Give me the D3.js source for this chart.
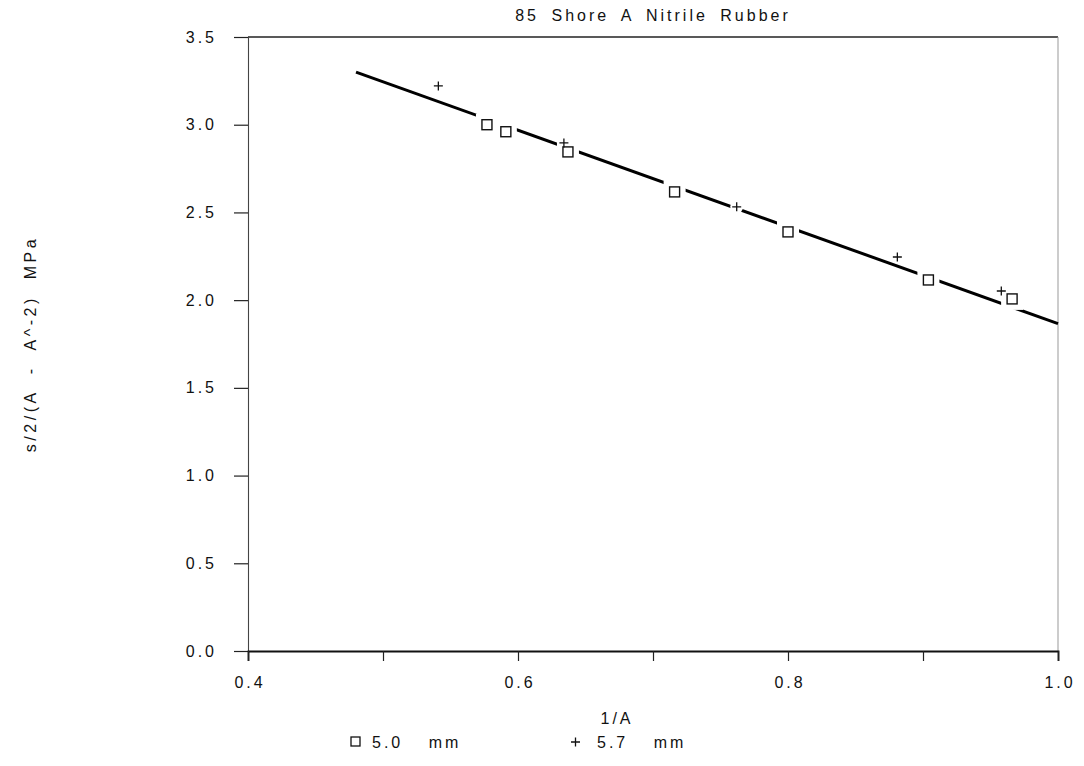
<!DOCTYPE html>
<html>
<head>
<meta charset="utf-8">
<script src="https://cdn.jsdelivr.net/npm/d3@7"></script>
<style>
  body { margin: 0; background: #fff; }
  svg text { font-family: "Liberation Sans", Arial, sans-serif; fill: #111; }
</style>
</head>
<body>
<svg width="1084" height="766"></svg>
<script>
const squareX = [0.577, 0.591, 0.637, 0.716, 0.800, 0.904, 0.966];
const squareY = [3.000, 2.960, 2.845, 2.617, 2.389, 2.115, 2.007];
const plusX = [0.541, 0.634, 0.762, 0.881, 0.958];
const plusY = [3.221, 2.896, 2.532, 2.246, 2.052];
const fitX = [0.48, 1.0];
const fitY = [3.30, 1.866];
const xTickValues = [0.4, 0.5, 0.6, 0.7, 0.8, 0.9, 1.0];
const xTickLabels = ["0.4", "", "0.6", "", "0.8", "", "1.0"];
const yTickValues = [0, 0.5, 1.0, 1.5, 2.0, 2.5, 3.0, 3.5];
const legendLabels = ["5.0 mm", "5.7 mm"];

const plotLeft = 248, plotRight = 1058, plotTop = 37, plotBottom = 651;
const svg = d3.select("svg");

const x = d3.scaleLinear().domain([0.4, 1.0]).range([plotLeft, plotRight]);
const y = d3.scaleLinear().domain([0, 3.5]).range([plotBottom, plotTop]);

// frame: top and right edges
svg.append("line").attr("x1", plotLeft).attr("x2", plotRight).attr("y1", plotTop).attr("y2", plotTop)
  .attr("stroke", "#222").attr("stroke-width", 1.5);
svg.append("line").attr("x1", plotRight).attr("x2", plotRight).attr("y1", plotTop).attr("y2", plotBottom)
  .attr("stroke", "#999").attr("stroke-width", 1);

const yAxis = d3.axisLeft(y).tickValues(yTickValues).tickSize(14).tickPadding(17)
  .tickFormat(d3.format(".1f"));
const gy = svg.append("g").attr("transform", `translate(${plotLeft},0)`).call(yAxis);
gy.select(".domain").attr("stroke", "#444").attr("stroke-width", 1.1);
gy.selectAll(".tick line").attr("stroke", "#222").attr("stroke-width", 1.2);
gy.selectAll("text").attr("font-size", 16).attr("letter-spacing", 3).attr("fill", "#111");

const xAxis = d3.axisBottom(x).tickValues(xTickValues).tickSize(10).tickPadding(16)
  .tickFormat((d, i) => xTickLabels[i]);
const gx = svg.append("g").attr("transform", `translate(0,${plotBottom})`).call(xAxis);
gx.select(".domain").attr("stroke", "#111").attr("stroke-width", 1.8);
gx.selectAll(".tick line").attr("stroke", "#222").attr("stroke-width", 1.2);
gx.selectAll("text").attr("font-size", 16).attr("letter-spacing", 3).attr("dx", 1.5).attr("fill", "#111");

// fitted line
svg.append("line")
  .attr("x1", x(fitX[0])).attr("y1", y(fitY[0]))
  .attr("x2", x(fitX[1])).attr("y2", y(fitY[1]))
  .attr("stroke", "#000").attr("stroke-width", 3);

const squares = squareX.map((v, i) => ({x: v, y: squareY[i]}));
const pluses = plusX.map((v, i) => ({x: v, y: plusY[i]}));

// white knockouts break the line around markers
svg.append("g").selectAll("rect").data(squares).join("rect")
  .attr("x", d => x(d.x) - 11).attr("y", d => y(d.y) - 11)
  .attr("width", 22).attr("height", 22).attr("fill", "#fff");
svg.append("g").selectAll("circle").data(pluses).join("circle")
  .attr("cx", d => x(d.x)).attr("cy", d => y(d.y)).attr("r", 6.5).attr("fill", "#fff");

svg.append("g").selectAll("rect").data(squares).join("rect")
  .attr("x", d => x(d.x) - 5).attr("y", d => y(d.y) - 5)
  .attr("width", 10).attr("height", 10)
  .attr("fill", "#fff").attr("stroke", "#111").attr("stroke-width", 1.4);

const plusPath = d => {
  const cx = x(d.x), cy = y(d.y);
  return `M${cx - 4.5},${cy}H${cx + 4.5}M${cx},${cy - 4.5}V${cy + 4.5}`;
};
svg.append("g").selectAll("path").data(pluses).join("path")
  .attr("d", plusPath).attr("stroke", "#111").attr("stroke-width", 1.3);

// titles
svg.append("text").attr("x", 653).attr("y", 21).attr("text-anchor", "middle")
  .attr("font-size", 16).attr("letter-spacing", 3).attr("word-spacing", 5)
  .text("85 Shore A Nitrile Rubber");
svg.append("text").attr("x", 617).attr("y", 724).attr("text-anchor", "middle")
  .attr("font-size", 16).attr("letter-spacing", 3).text("1/A");
svg.append("text")
  .attr("transform", `translate(36,${(plotTop + plotBottom) / 2}) rotate(-90)`)
  .attr("text-anchor", "middle").attr("font-size", 16).attr("letter-spacing", 3.5)
  .attr("word-spacing", 8)
  .text("s/2/(A - A^-2) MPa");

// legend
const lg = svg.append("g");
lg.append("rect").attr("x", 351).attr("y", 737).attr("width", 9).attr("height", 9)
  .attr("fill", "none").attr("stroke", "#111").attr("stroke-width", 1.3);
lg.append("text").attr("x", 372).attr("y", 748).attr("font-size", 16).attr("letter-spacing", 3)
  .attr("word-spacing", 18).text(legendLabels[0]);
lg.append("path").attr("d", "M571,742H580M575.5,737.5V746.5").attr("stroke", "#111").attr("stroke-width", 1.3);
lg.append("text").attr("x", 597).attr("y", 748).attr("font-size", 16).attr("letter-spacing", 3)
  .attr("word-spacing", 18).text(legendLabels[1]);
</script>
</body>
</html>
